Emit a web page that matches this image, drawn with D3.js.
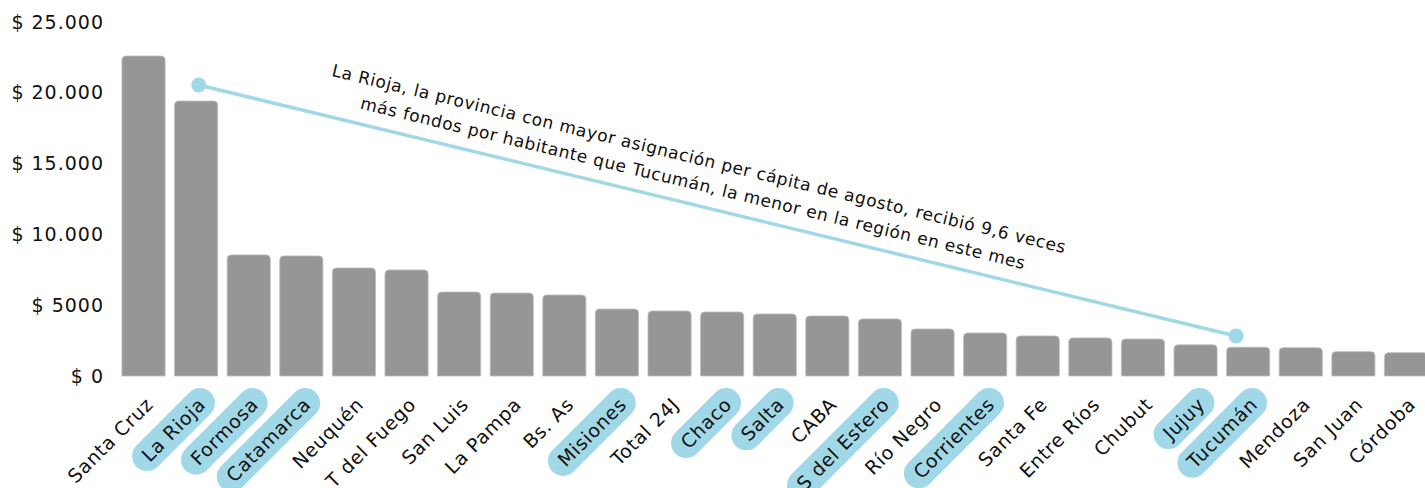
<!DOCTYPE html>
<html>
<head>
<meta charset="utf-8">
<script src="https://cdn.jsdelivr.net/npm/d3@7"></script>
<style>
  body { margin: 0; background: #fff; }
  svg { display: block; font-family: "DejaVu Sans", sans-serif; }
</style>
</head>
<body>
<div id="chart"></div>
<script>
var provincias = ["Santa Cruz", "La Rioja", "Formosa", "Catamarca", "Neuquén", "T del Fuego", "San Luis",
    "La Pampa", "Bs. As", "Misiones", "Total 24J", "Chaco", "Salta", "CABA", "S del Estero", "Río Negro",
    "Corrientes", "Santa Fe", "Entre Ríos", "Chubut", "Jujuy", "Tucumán", "Mendoza", "San Juan", "Córdoba"];
var montos = [22600, 19420, 8550, 8480, 7630, 7490, 5930, 5860, 5720, 4730, 4590, 4520, 4380, 4240, 4030,
    3320, 3040, 2830, 2690, 2610, 2200, 2030, 2000, 1720, 1650];
var destacadas = ["La Rioja", "Formosa", "Catamarca", "Misiones", "Chaco", "Salta", "S del Estero",
    "Corrientes", "Jujuy", "Tucumán"];
var yTicks = [0, 5000, 10000, 15000, 20000, 25000];
var yTickLabels = ["$ 0", "$ 5000", "$ 10.000", "$ 15.000", "$ 20.000", "$ 25.000"];
// extremos de la línea de anotación (provincia, posición dentro de la banda, valor)
var anotPuntos = [{ prov: "La Rioja", pos: 0.56, valor: 20550 }, { prov: "Tucumán", pos: 0.22, valor: 2830 }];
var anotLineas = ["La Rioja, la provincia con mayor asignación per cápita de agosto, recibió 9,6 veces",
    "más fondos por habitante que Tucumán, la menor en la región en este mes"];

var width = 1425, height = 488;
var azul = "#a1d8e8", gris = "#969696";

var svg = d3.select("#chart")
    .append("svg")
    .attr("width", width)
    .attr("height", height);

var x = d3.scaleBand()
    .domain(provincias)
    .range([112.5, 1437])
    .paddingInner(0.18)
    .paddingOuter(0.18);

var y = d3.scaleLinear()
    .domain([0, 25000])
    .range([376, 22]);

// eje y
var yAxis = svg.append("g")
    .attr("transform", "translate(104,0)")
    .call(d3.axisLeft(y).tickValues(yTicks).tickSize(0).tickPadding(0)
        .tickFormat(function (d, i) { return yTickLabels[i]; }));
yAxis.select(".domain").remove();
yAxis.selectAll("text")
    .attr("font-family", "DejaVu Sans, sans-serif")
    .attr("font-size", 19)
    .attr("letter-spacing", 1)
    .attr("fill", "#111");

// barras con esquinas superiores redondeadas
function barPath(d) {
    var x0 = x(d.prov), w = x.bandwidth(), y0 = y(d.valor), y1 = y(0), r = 4;
    return "M" + x0 + "," + y1 +
        "V" + (y0 + r) + "Q" + x0 + "," + y0 + " " + (x0 + r) + "," + y0 +
        "H" + (x0 + w - r) + "Q" + (x0 + w) + "," + y0 + " " + (x0 + w) + "," + (y0 + r) +
        "V" + y1 + "Z";
}
var datos = provincias.map(function (p, i) { return { prov: p, valor: montos[i] }; });
svg.selectAll(".bar")
    .data(datos)
    .enter()
    .append("path")
    .attr("class", "bar")
    .attr("d", barPath)
    .attr("fill", gris)
    .attr("stroke", "#bdbdbd")
    .attr("stroke-width", 0.8);

// etiquetas x
var labels = svg.selectAll(".xlab")
    .data(provincias)
    .enter()
    .append("g")
    .attr("class", "xlab")
    .attr("transform", function (d) {
        return "translate(" + (x(d) + x.bandwidth() / 2 + 6) + ",401) rotate(-45)";
    });
labels.append("text")
    .attr("text-anchor", "end")
    .attr("dy", "0.35em")
    .attr("font-size", 19)
    .attr("letter-spacing", 0.7)
    .attr("fill", "#111")
    .text(function (d) { return d; });
labels.filter(function (d) { return destacadas.indexOf(d) >= 0; })
    .insert("rect", "text")
    .each(function () {
        var w = this.parentNode.querySelector("text").getComputedTextLength();
        d3.select(this)
            .attr("x", -w - 12)
            .attr("y", -15)
            .attr("width", w + 24)
            .attr("height", 30)
            .attr("rx", 15)
            .attr("fill", azul);
    });

// anotación
var p1 = [x(anotPuntos[0].prov) + x.bandwidth() * anotPuntos[0].pos, y(anotPuntos[0].valor)];
var p2 = [x(anotPuntos[1].prov) + x.bandwidth() * anotPuntos[1].pos, y(anotPuntos[1].valor)];
svg.append("line")
    .attr("x1", p1[0]).attr("y1", p1[1])
    .attr("x2", p2[0]).attr("y2", p2[1])
    .attr("stroke", azul)
    .attr("stroke-width", 3.5);
svg.selectAll(".dot")
    .data([p1, p2])
    .enter()
    .append("circle")
    .attr("cx", function (d) { return d[0]; })
    .attr("cy", function (d) { return d[1]; })
    .attr("r", 7.5)
    .attr("fill", azul);

var ang = Math.atan2(p2[1] - p1[1], p2[0] - p1[0]) * 180 / Math.PI;
var anot = svg.append("g")
    .attr("transform", "translate(" + (p1[0] + p2[0]) / 2 + "," + (p1[1] + p2[1]) / 2 + ") rotate(" + ang + ")");
anot.selectAll("text")
    .data(anotLineas)
    .enter()
    .append("text")
    .attr("x", -30)
    .attr("y", function (d, i) { return -40 + i * 25; })
    .attr("text-anchor", "middle")
    .attr("font-size", 17)
    .attr("letter-spacing", 0.6)
    .attr("fill", "#111")
    .text(function (d) { return d; });
</script>
</body>
</html>
